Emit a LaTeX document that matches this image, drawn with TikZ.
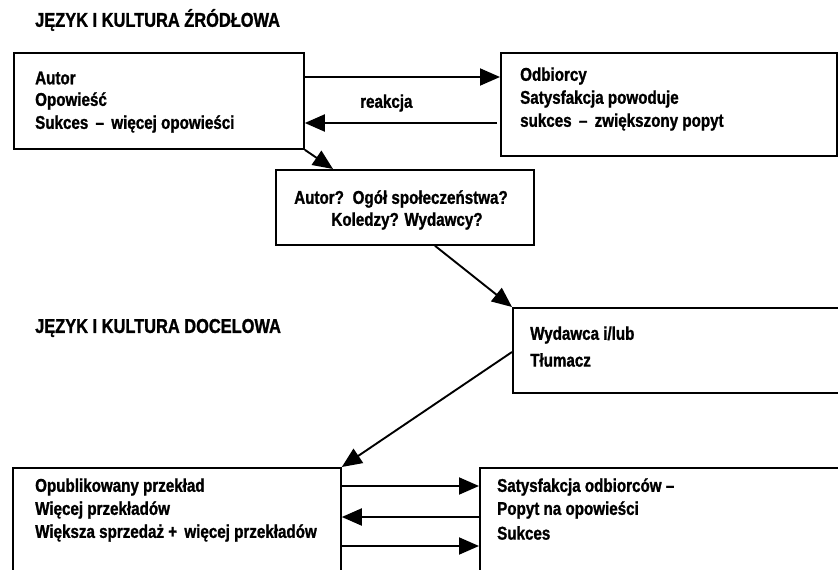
\documentclass[tikz,border=0pt]{standalone}
\usepackage{fontspec}
\setmainfont[FakeStretch=0.82,FakeBold=1.2]{Liberation Sans}
\usetikzlibrary{arrows.meta,calc}
\begin{document}
\begin{tikzpicture}[x=1pt,y=-1pt,
  box/.style={draw,line width=1.8pt,rectangle,anchor=north west,inner sep=0pt},
  txt/.style={anchor=west,align=left,inner sep=0pt,font=\fontsize{18.5}{23}\selectfont\bfseries},
  ttl/.style={anchor=west,inner sep=0pt,font=\fontsize{20}{24}\selectfont\bfseries},
  arr/.style={line width=1.9pt,-{Triangle[length=20pt,width=17pt]}}]
\useasboundingbox (0,0) rectangle (838,570);
\clip (0,0) rectangle (838,570);
\fill[white] (0,0) rectangle (838,570);
% titles
\node[ttl] (t1) at (35,20) {JĘZYK I KULTURA ŹRÓDŁOWA};
\node[ttl] (t2) at (35,328) {JĘZYK I KULTURA DOCELOWA};
% boxes
\node[box,minimum width=290pt,minimum height=96pt] (A) at (13,52) {};
\node[box,minimum width=336pt,minimum height=103pt] (B) at (500,52) {};
\node[box,minimum width=258pt,minimum height=75pt] (C) at (275,169) {};
\node[box,minimum width=340pt,minimum height=85pt] (D) at (512,307) {};
\node[box,minimum width=328pt,minimum height=140pt] (E) at (12,467) {};
\node[box,minimum width=370pt,minimum height=140pt] (F) at (479,467) {};
% texts
\node[txt] (a1) at (35,78) {Autor};
\node[txt] (a2) at (35,101) {Opowieść};
\node[txt] (a3) at (35,124) {Sukces \,–\, więcej opowieści};
\node[txt] (b1) at (520,76) {Odbiorcy};
\node[txt] (b2) at (520,99) {Satysfakcja powoduje};
\node[txt] (b3) at (520,122) {sukces \,–\, zwiększony popyt};
\node[txt,anchor=center] (c1) at (401,199) {Autor? \,Ogół społeczeństwa?};
\node[txt,anchor=center] (c2) at (407,221) {Koledzy? Wydawcy?};
\node[txt] (d1) at (530,335) {Wydawca i/lub};
\node[txt] (d2) at (530,360) {Tłumacz};
\node[txt] (e1) at (35,487) {Opublikowany przekład};
\node[txt] (e2) at (35,510) {Więcej przekładów};
\node[txt] (e3) at (35,533) {Większa sprzedaż + \,więcej przekładów};
\node[txt] (f1) at (497,487) {Satysfakcja odbiorców –};
\node[txt] (f2) at (497,510) {Popyt na opowieści};
\node[txt] (f3) at (497,533) {Sukces};
\node[txt] (lab) at (360,103) {reakcja};
% connectors
\draw[arr] ($(A.north east)+(0,25)$) -- ($(B.north west)+(0,25)$);
\draw[arr] ($(B.north west)+(-3,71)$) -- ($(A.north east)+(0,71)$);
\draw[arr] (A.south east) -- ($(C.north west)+(58,0)$);
\draw[arr] ($(C.south west)+(160,0)$) -- (D.north west);
\draw[arr] ($(D.north west)+(0,45)$) -- (E.north east);
\draw[arr] ($(E.north east)+(0,19)$) -- ($(F.north west)+(0,19)$);
\draw[arr] ($(F.north west)+(0,50)$) -- ($(E.north east)+(0,50)$);
\draw[arr] ($(E.north east)+(0,79)$) -- ($(F.north west)+(0,79)$);
\end{tikzpicture}
\end{document}
